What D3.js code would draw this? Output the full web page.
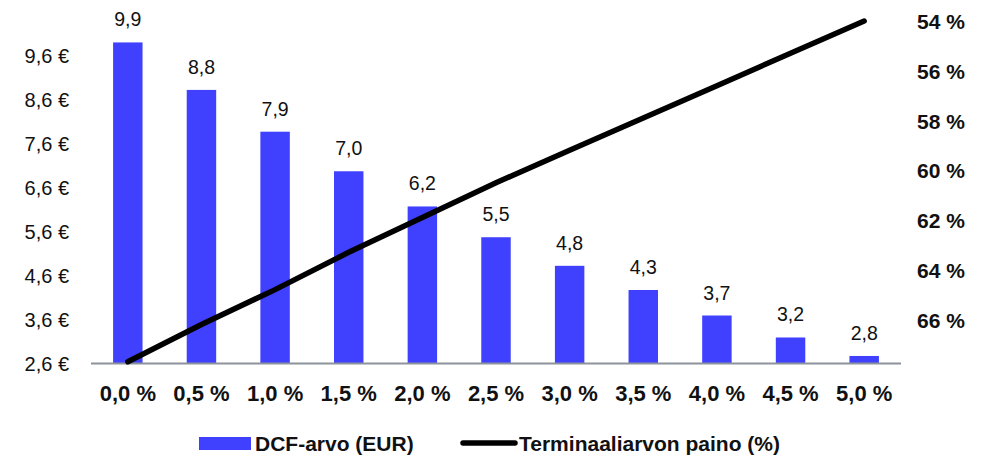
<!DOCTYPE html>
<html><head><meta charset="utf-8">
<script src="https://cdn.jsdelivr.net/npm/d3@7"></script>
<style>
body{margin:0;background:#fff;}
svg{display:block;font-family:"Liberation Sans",Arial,sans-serif;}
</style></head>
<body><svg id="c" width="991" height="457"></svg>
<script>
const categories = ["0,0 %","0,5 %","1,0 %","1,5 %","2,0 %","2,5 %","3,0 %","3,5 %","4,0 %","4,5 %","5,0 %"];
const dcfValues = [9.89, 8.81, 7.86, 6.96, 6.16, 5.46, 4.81, 4.26, 3.68, 3.18, 2.76];
const terminalWeight = [67.7, 66.2, 64.8, 63.3, 61.9, 60.5, 59.2, 57.9, 56.6, 55.3, 54.0];
const leftTicks = [2.6, 3.6, 4.6, 5.6, 6.6, 7.6, 8.6, 9.6];
const rightTicks = [54, 56, 58, 60, 62, 64, 66];
const seriesNames = ["DCF-arvo (EUR)", "Terminaaliarvon paino (%)"];

const FF = "Liberation Sans, Arial, sans-serif";
const svg = d3.select("#c");
const x0 = 91, x1 = 901, yTop = 20, yBase = 363;
const x = d3.scaleBand().domain(categories).range([x0, x1]).paddingInner(0.6).paddingOuter(0.3);
const yL = d3.scaleLinear().domain([2.6, 10.4]).range([yBase, yTop]);
const yR = d3.scaleLinear().domain([54, 67.75]).range([21, yBase]);
const fmt = d => d.toFixed(1).replace(".", ",");

// bars
svg.append("g").selectAll("rect").data(dcfValues).join("rect")
  .attr("x", (d,i) => x(categories[i]))
  .attr("width", x.bandwidth())
  .attr("y", d => yL(d))
  .attr("height", d => yBase - yL(d))
  .attr("fill", "#4040ff");

// bar labels
svg.append("g").selectAll("text").data(dcfValues).join("text")
  .attr("x", (d,i) => x(categories[i]) + x.bandwidth()/2)
  .attr("y", d => yL(d) - 16)
  .attr("text-anchor", "middle")
  .attr("font-family", FF)
  .attr("font-size", 19.5)
  .attr("fill", "#111")
  .text(d => fmt(d));

// baseline
svg.append("line").attr("x1", x0).attr("x2", x1).attr("y1", yBase+0.5).attr("y2", yBase+0.5)
  .attr("stroke", "#8c939b").attr("stroke-width", 2);

// left axis
const axL = d3.axisLeft(yL).tickValues(leftTicks).tickSize(0).tickPadding(0).tickFormat(d => fmt(d) + " €");
const gL = svg.append("g").attr("transform", "translate(69,0)").call(axL);
gL.select(".domain").remove();
gL.attr("font-family", FF).attr("font-size", 20);
gL.selectAll("text").attr("fill", "#111").attr("dy", "0.36em");

// right axis
const axR = d3.axisRight(yR).tickValues(rightTicks).tickSize(0).tickPadding(0).tickFormat(d => d + " %");
const gR = svg.append("g").attr("transform", "translate(917,0)").call(axR);
gR.select(".domain").remove();
gR.attr("font-family", FF).attr("font-size", 21).attr("font-weight", "bold");
gR.selectAll("text").attr("fill", "#111").attr("dy", "0.36em");

// bottom axis
const axB = d3.axisBottom(x).tickSize(0).tickPadding(0);
const gB = svg.append("g").attr("transform", `translate(0,${yBase})`).call(axB);
gB.select(".domain").remove();
gB.attr("font-family", FF).attr("font-size", 22).attr("font-weight", "bold");
gB.selectAll("text").attr("fill", "#111").attr("dy", null).attr("y", 38);

// line
const line = d3.line().x((d,i) => x(categories[i]) + x.bandwidth()/2).y(d => yR(d));
svg.append("path").datum(terminalWeight).attr("d", line)
  .attr("fill", "none").attr("stroke", "#000").attr("stroke-width", 5.5).attr("stroke-linecap", "round");

// legend
const lg = svg.append("g").attr("font-family", FF).attr("font-size", 21).attr("font-weight", "bold").attr("fill", "#111");
lg.append("rect").attr("x", 199).attr("y", 437).attr("width", 52).attr("height", 13).attr("fill", "#4040ff");
lg.append("text").attr("x", 255).attr("y", 451).text(seriesNames[0]);
lg.append("line").attr("x1", 463).attr("x2", 515).attr("y1", 443).attr("y2", 443).attr("stroke", "#000").attr("stroke-width", 5.5).attr("stroke-linecap", "round");
lg.append("text").attr("x", 519).attr("y", 451).text(seriesNames[1]);
</script></body></html>
